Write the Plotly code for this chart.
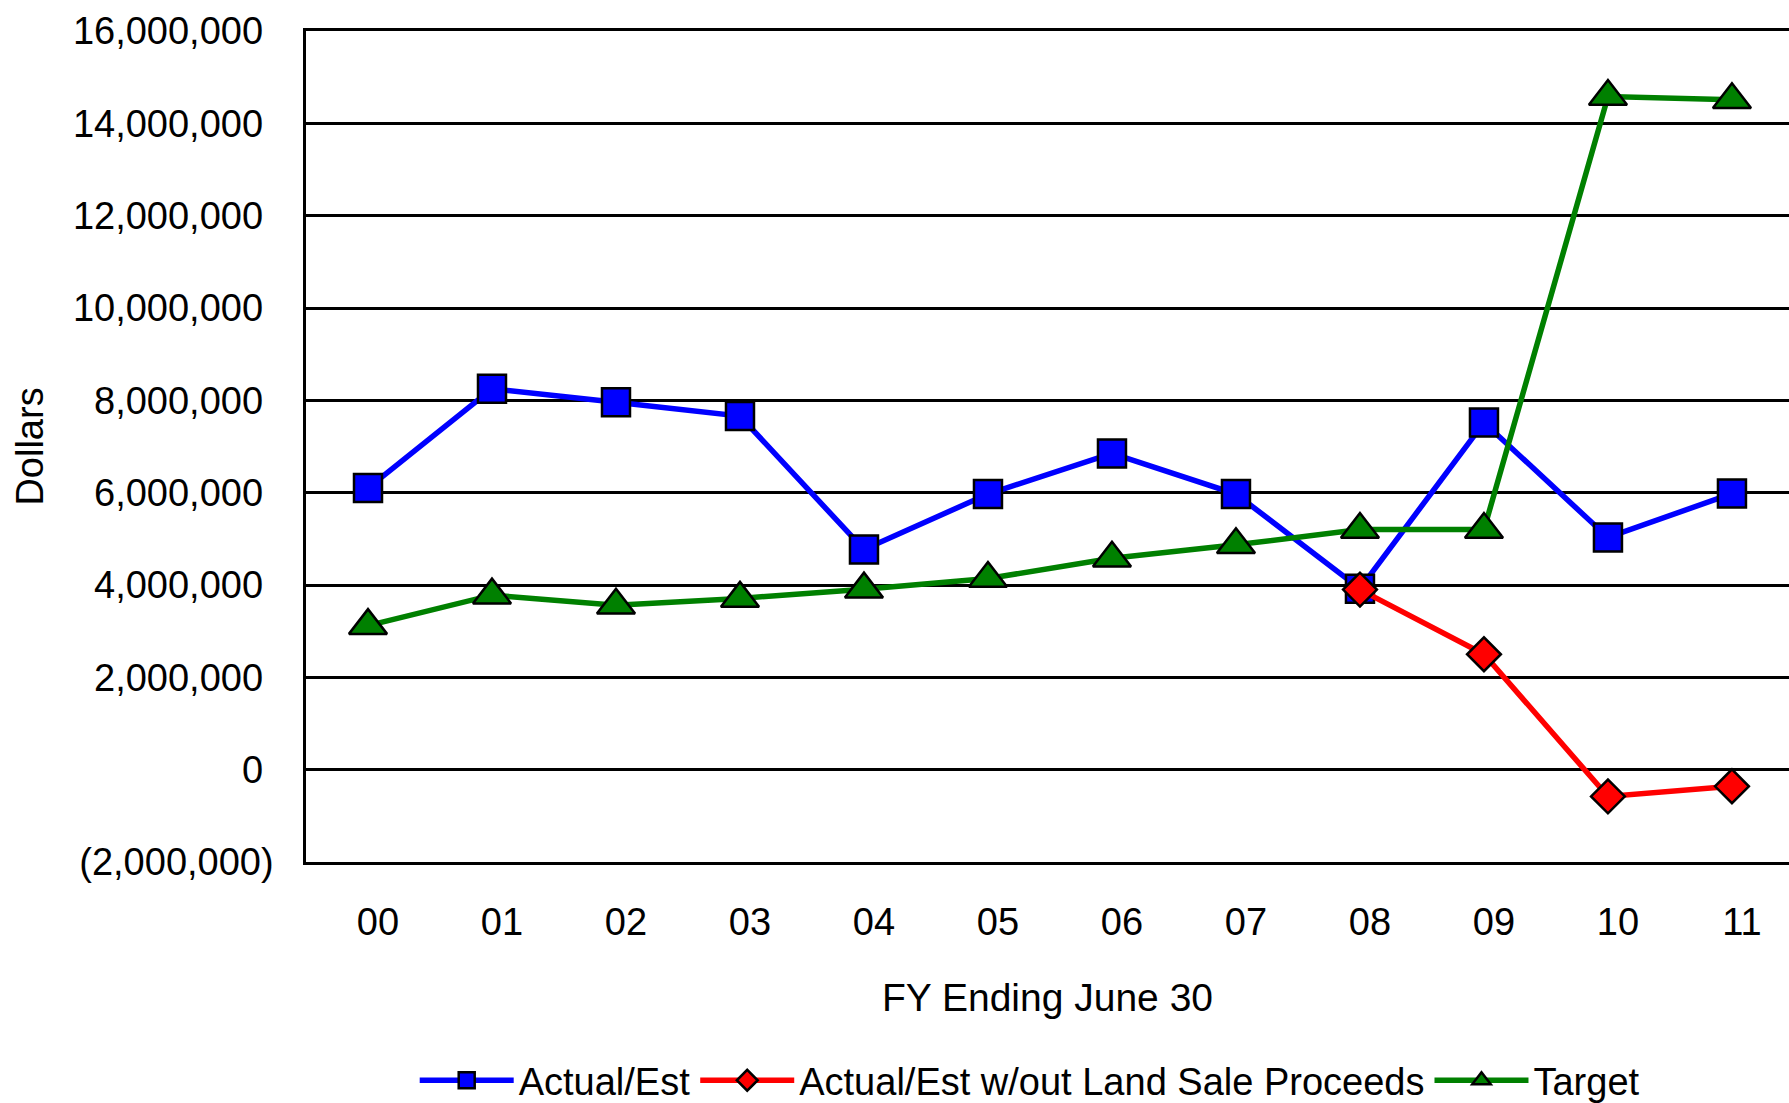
import plotly.graph_objects as go

years = ["00", "01", "02", "03", "04", "05", "06", "07", "08", "09", "10", "11"]
actual_est = [6100000, 8250000, 7960000, 7660000, 4770000, 5970000, 6850000, 5970000, 3920000, 7520000, 5030000, 5980000]
actual_wo_land = [None, None, None, None, None, None, None, None, 3900000, 2500000, -580000, -360000]
target = [3120000, 3780000, 3560000, 3710000, 3910000, 4140000, 4580000, 4870000, 5200000, 5200000, 14580000, 14510000]

y_tickvals = [-2000000, 0, 2000000, 4000000, 6000000, 8000000, 10000000, 12000000, 14000000, 16000000]
y_ticktext = ["(2,000,000)", "0\u00a0", "2,000,000\u00a0", "4,000,000\u00a0", "6,000,000\u00a0", "8,000,000\u00a0",
              "10,000,000\u00a0", "12,000,000\u00a0", "14,000,000\u00a0", "16,000,000\u00a0"]

FONT = "Liberation Sans, Arial, sans-serif"
xs = list(range(len(years)))

fig = go.Figure()
fig.add_trace(go.Scatter(
    x=xs, y=actual_est, name="Actual/Est", mode="lines+markers",
    line=dict(color="#0000FF", width=5.5),
    marker=dict(symbol="square", size=28, color="#0000FF", line=dict(color="black", width=2.5)),
))
fig.add_trace(go.Scatter(
    x=xs, y=actual_wo_land, name="Actual/Est w/out Land Sale Proceeds", mode="lines+markers",
    line=dict(color="#FF0000", width=5.5),
    marker=dict(symbol="diamond", size=26, color="#FF0000", line=dict(color="black", width=2.5)),
))
fig.add_trace(go.Scatter(
    x=xs, y=target, name="Target", mode="lines+markers",
    line=dict(color="#008000", width=5.5),
    marker=dict(symbol="triangle-up", size=33, color="#008000", line=dict(color="black", width=2.5)),
))

fig.update_layout(
    width=1789, height=1103,
    margin=dict(l=306, r=0, t=31, b=241, autoexpand=False),
    paper_bgcolor="white", plot_bgcolor="white",
    font=dict(family=FONT, size=38, color="black"),
    showlegend=True,
    legend=dict(orientation="h", x=0.488, xanchor="center", y=-0.263, yanchor="middle",
                font=dict(size=38), itemwidth=94, tracegroupgap=0),
)
fig.update_xaxes(
    range=[-0.5, 11.46],
    tickmode="array", tickvals=xs, ticktext=years,
    showgrid=False, zeroline=False,
    showline=True, mirror=True, linecolor="black", linewidth=2.5,
    ticks="", ticklabelstandoff=25, ticklabelshift=10,
    tickfont=dict(size=38), automargin=False,
    title=dict(text="FY Ending June 30", font=dict(size=39), standoff=42),
)
fig.update_yaxes(
    range=[-2000000, 16000000],
    tickmode="array", tickvals=y_tickvals, ticktext=y_ticktext,
    showgrid=True, gridcolor="black", gridwidth=2.5,
    zeroline=False,
    showline=True, linecolor="black", linewidth=2.5,
    ticks="", ticklabelstandoff=22,
    tickfont=dict(size=38), automargin=False,
    title=dict(text="Dollars", font=dict(size=38), standoff=18),
)

fig.write_html(
    "out.html",
    config={"displayModeBar": False},
    post_script="document.body.style.margin='0';document.body.style.overflow='hidden';",
)
